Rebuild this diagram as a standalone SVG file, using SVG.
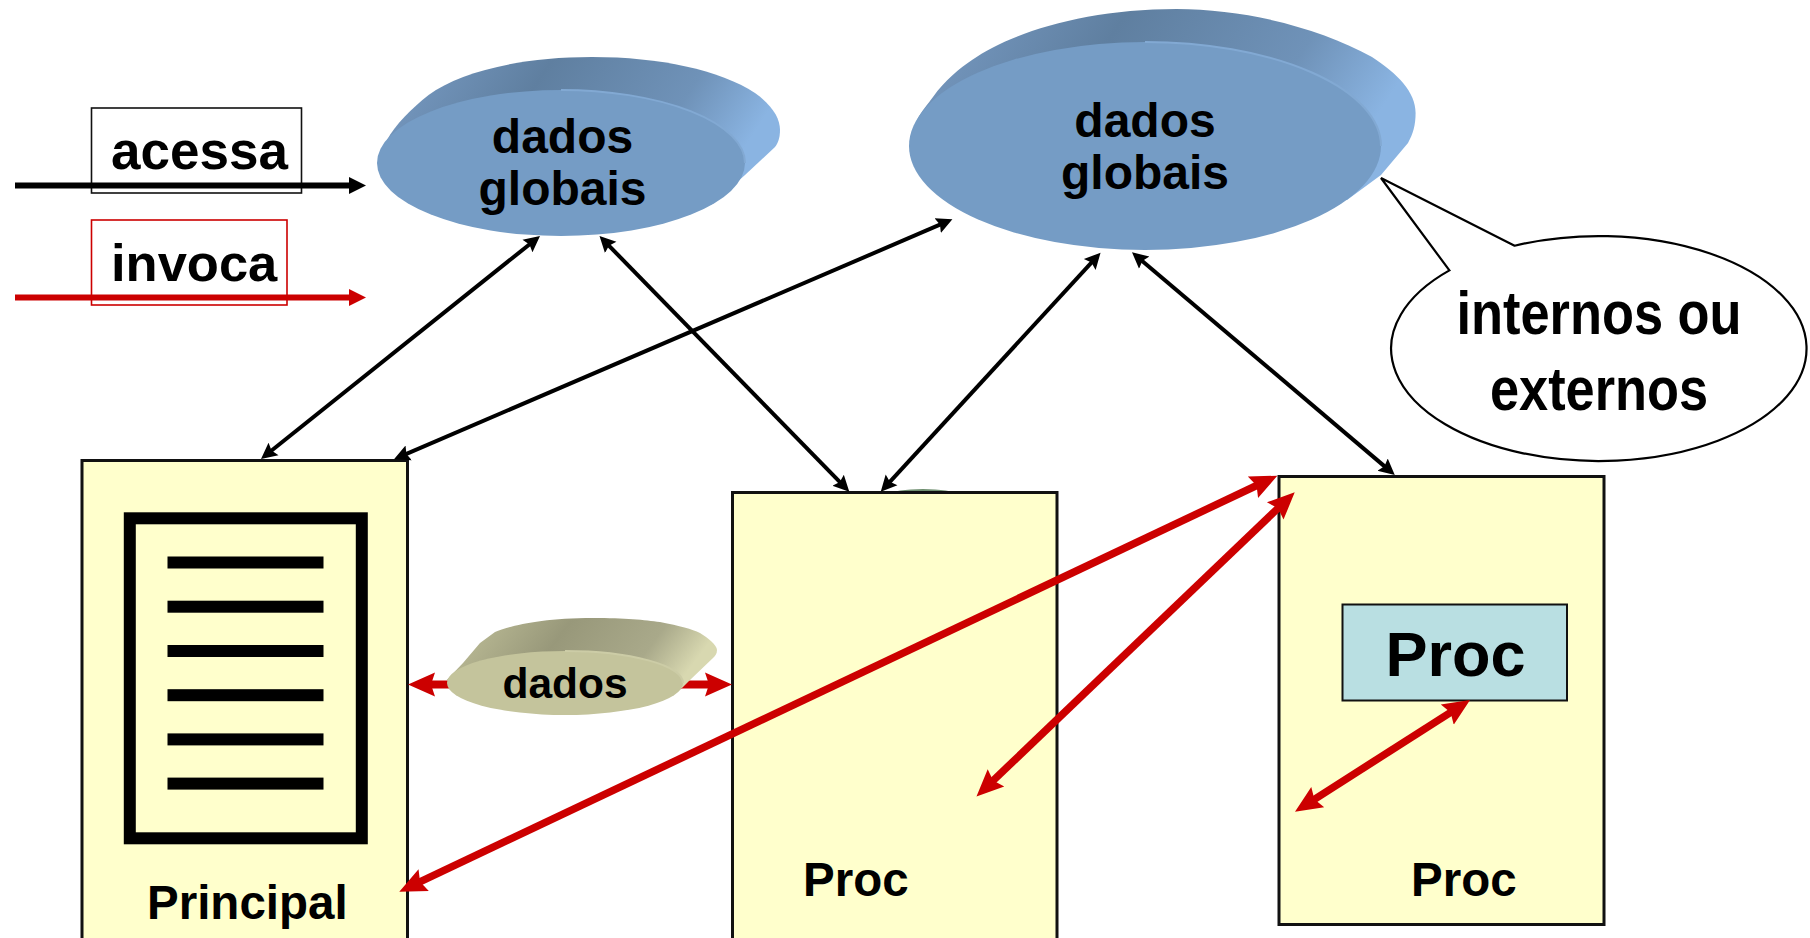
<svg xmlns="http://www.w3.org/2000/svg" width="1810" height="938" viewBox="0 0 1810 938">
<style>
text{font-family:"Liberation Sans",Arial,sans-serif;font-weight:700;fill:#000}
.m{text-anchor:middle}
.box{fill:#FFFFCC;stroke:#111;stroke-width:3}
.blk{fill:none;stroke:#000;stroke-width:4;marker-start:url(#hb);marker-end:url(#hb)}
.red{fill:none;stroke:#CC0000;stroke-width:7.500;marker-start:url(#hr);marker-end:url(#hr)}
.bar{fill:#000}
.rimb{fill:none;stroke:#82A9D3;stroke-width:2}
.rimo{fill:none;stroke:#CCCCA6;stroke-width:2}
.fb{fill:#759CC5}
.fo{fill:#C4C49C}
</style>
<defs>
<linearGradient id="gb" x1="0" y1="0" x2="1" y2="0.25">
<stop offset="0" stop-color="#7A9DC6"/><stop offset="0.4" stop-color="#5F7FA0"/><stop offset="0.78" stop-color="#6F92B8"/><stop offset="1" stop-color="#8AB4E2"/>
</linearGradient>
<linearGradient id="go" x1="0" y1="0" x2="1" y2="0.2">
<stop offset="0" stop-color="#C4C49C"/><stop offset="0.45" stop-color="#98987A"/><stop offset="0.8" stop-color="#A9A98A"/><stop offset="1" stop-color="#D8D8B0"/>
</linearGradient>
<marker id="hb" markerUnits="userSpaceOnUse" markerWidth="20" markerHeight="20" refX="10" refY="10" orient="auto-start-reverse" viewBox="0 0 20 20">
<path d="M16 10L0 2L2.500 10L0 18Z" fill="#000"/>
</marker>
<marker id="hr" markerUnits="userSpaceOnUse" markerWidth="32" markerHeight="32" refX="17" refY="16" orient="auto-start-reverse" viewBox="0 0 32 32">
<path d="M27 16L0 4L4 16L0 28Z" fill="#CC0000"/>
</marker>
<marker id="lb" markerUnits="userSpaceOnUse" markerWidth="20" markerHeight="20" refX="3" refY="10" orient="auto" viewBox="0 0 20 20">
<path d="M17 10L0 1.500V18.500Z" fill="#000"/>
</marker>
<marker id="lr" markerUnits="userSpaceOnUse" markerWidth="20" markerHeight="20" refX="3" refY="10" orient="auto" viewBox="0 0 20 20">
<path d="M17 10L0 1.500V18.500Z" fill="#CC0000"/>
</marker>
</defs>

<g id="legend-acessa">
<rect x="91.500" y="108" width="210" height="85" fill="#fff" stroke="#111" stroke-width="1.600"/>
<text x="111" y="169" font-size="53">acessa</text>
</g>
<g id="legend-invoca">
<rect x="91.500" y="220" width="195.500" height="85" fill="#fff" stroke="#CC0000" stroke-width="1.600"/>
<text x="111" y="281" font-size="52.500">invoca</text>
</g>

<g id="dados-globais-1">
<path d="M387 140C395 125 412 108 428.600 95C460 72 520 57 592 57C660 57 720 70 755 93C772 105 780 118 780 130C780 138 778 143 775 147L745 175L711 205L500 205Z" fill="url(#gb)"/>
<ellipse class="fb" cx="561" cy="163" rx="184" ry="73"/>
<path class="rimb" d="M561 90A184 73 0 0 1 745 163"/>
<text class="m" x="562.500" y="153" font-size="48">dados</text>
<text class="m" x="562.500" y="205" font-size="48">globais</text>
</g>

<g id="dados-globais-2">
<path d="M917 120C922 110 928 104 933 97C945 80 960 68 972 60C1010 33 1085 9 1176.600 9C1245 9 1320 28 1372 57C1398 74 1415.600 92 1415.600 113C1415.600 125 1413 134 1408 143L1381 175L1347 200L1100 200Z" fill="url(#gb)"/>
<ellipse class="fb" cx="1145" cy="146" rx="236" ry="104"/>
<path class="rimb" d="M1145 42A236 104 0 0 1 1381 146"/>
<text class="m" x="1145" y="137" font-size="48">dados</text>
<text class="m" x="1145" y="189" font-size="48">globais</text>
</g>

<g id="callout">
<path d="M1514.600 245.700L1381 178L1449.400 270.400A207.700 112.500 0 1 0 1514.600 245.700Z" fill="#fff" stroke="#000" stroke-width="2.200"/>
<text class="m" x="1599" y="334" font-size="62" textLength="285" lengthAdjust="spacingAndGlyphs">internos ou</text>
<text class="m" x="1599" y="410" font-size="62" textLength="218" lengthAdjust="spacingAndGlyphs">externos</text>
</g>

<g id="principal">
<rect class="box" x="82" y="460.500" width="325.500" height="490"/>
<rect x="129.800" y="518.300" width="232" height="320" fill="none" stroke="#000" stroke-width="12"/>
<rect class="bar" x="167.500" y="556.500" width="156" height="12"/>
<rect class="bar" x="167.500" y="600.700" width="156" height="12"/>
<rect class="bar" x="167.500" y="645" width="156" height="12"/>
<rect class="bar" x="167.500" y="689.200" width="156" height="12"/>
<rect class="bar" x="167.500" y="733.400" width="156" height="12"/>
<rect class="bar" x="167.500" y="777.600" width="156" height="12"/>
<text x="147" y="919" font-size="47.500">Principal</text>
</g>

<g id="proc-middle">
<ellipse cx="923" cy="494.500" rx="32" ry="5.500" fill="#6F8F70"/>
<rect class="box" x="732.500" y="492.500" width="324.500" height="460"/>
<text x="803" y="896" font-size="47.500">Proc</text>
</g>

<g id="proc-right">
<rect class="box" x="1279" y="476.500" width="325" height="448"/>
<rect x="1342.500" y="604.500" width="224.500" height="96" fill="#B9DFE2" stroke="#111" stroke-width="2"/>
<text class="m" x="1455.500" y="676" font-size="63">Proc</text>
<text x="1411" y="896" font-size="47.500">Proc</text>
</g>

<g id="connectors">
<path d="M15 185.500H352" fill="none" stroke="#000" stroke-width="6" marker-end="url(#lb)"/>
<path d="M15 297.500H352" fill="none" stroke="#CC0000" stroke-width="6" marker-end="url(#lr)"/>
<path class="blk" d="M535.300 239.700L265.700 455.300"/>
<path class="blk" d="M603.700 240.300L845.100 487.400"/>
<path class="blk" d="M946.900 221.700L399.500 456.900"/>
<path class="blk" d="M1096.500 257.100L884.800 487.300"/>
<path class="blk" d="M1136.600 256.200L1390.200 471.100"/>
<path class="red" d="M1268.300 480L408.300 887.400"/>
<path class="red" d="M1287.500 499.200L983.700 789.600"/>
<path class="red" d="M1461.600 705.400L1303.400 806.300"/>
<path class="red" style="stroke-width:8" d="M418 684.500H722"/>
</g>

<g id="dados-local">
<path d="M446.700 680L463 663L480 643L495 632C510 626 540 618 593 618C625 618 645 620 660 622C680 626 692 629 700 633C708 638 717 645 717 650C717 654 715 656 713 658L690 680L682 688L560 690Z" fill="url(#go)"/>
<ellipse class="fo" cx="565" cy="683" rx="118" ry="32"/>
<path class="rimo" d="M565 651A118 32 0 0 1 683 683"/>
<text class="m" x="565" y="697.500" font-size="42.500">dados</text>
</g>
</svg>
